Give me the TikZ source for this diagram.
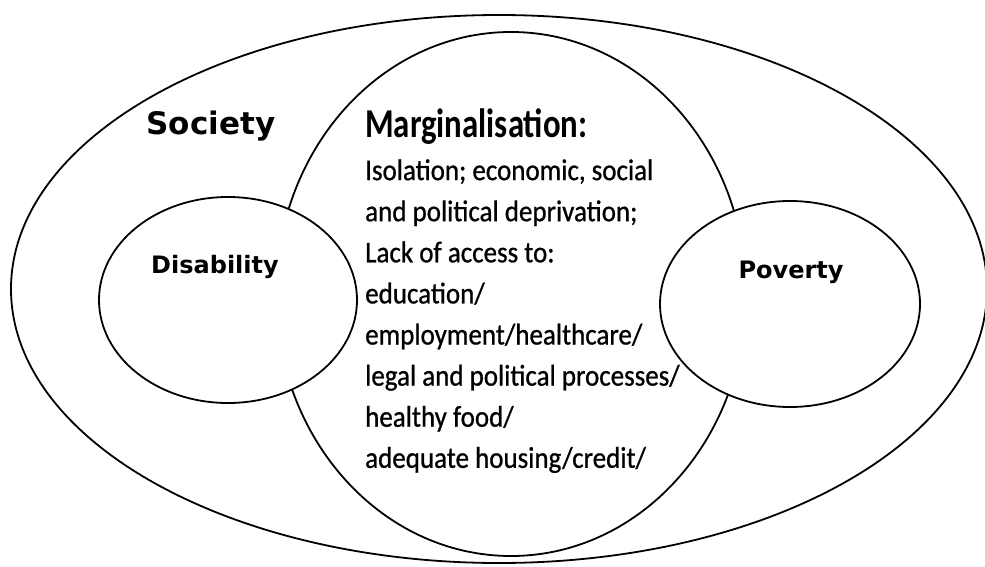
\documentclass[tikz,border=0pt]{standalone}
\usepackage{fontspec}
\setmainfont{Carlito}
\newfontfamily\labelfont{DejaVu Sans}
\newfontfamily\bodyfont[FakeStretch=0.9,FakeBold=0.8]{Carlito}
\newfontfamily\headfont[FakeStretch=0.8]{Carlito}
\usetikzlibrary{shapes.geometric}
\tikzset{
  ring/.style={draw, ellipse, line width=1.8pt, inner sep=0pt},
  blob/.style={ring, fill=white},
  tag/.style={font=\labelfont\bfseries\fontsize{24}{24}\selectfont, anchor=base, inner sep=0pt},
  body/.style={font=\bodyfont\fontsize{30}{30}\selectfont, anchor=base west, inner sep=0pt},
}
\begin{document}
\begin{tikzpicture}[x=1pt,y=-1pt]
\useasboundingbox (0,0) rectangle (985,567);
\node[ring, minimum width=976, minimum height=548] (society) at (499,289) {};
\node[ring, minimum width=470, minimum height=524] (margin) at (511,294) {};
\node[blob, minimum width=258, minimum height=206] (disab) at (228,300) {};
\node[blob, minimum width=260, minimum height=206] (pov) at (790,304) {};
\node[tag, font=\labelfont\bfseries\fontsize{31}{31}\selectfont] (soclabel) at (211,135) {Society};
\node[tag] (disablabel) at (215,273) {Disability};
\node[tag] (povlabel) at (791,278) {Poverty};
\node[body, font=\headfont\bfseries\fontsize{41}{41}\selectfont] (head) at (365,138) {Marginalisation:};
\foreach \t [count=\i] in {{Isolation; economic, social}, {and political deprivation;}, {Lack of access to:}, {education/}, {employment/healthcare/}, {legal and political processes/}, {healthy food/}, {adequate housing/credit/}}
  \node[body] (line\i) at (365,139+41.1*\i) {\t};
\end{tikzpicture}
\end{document}
